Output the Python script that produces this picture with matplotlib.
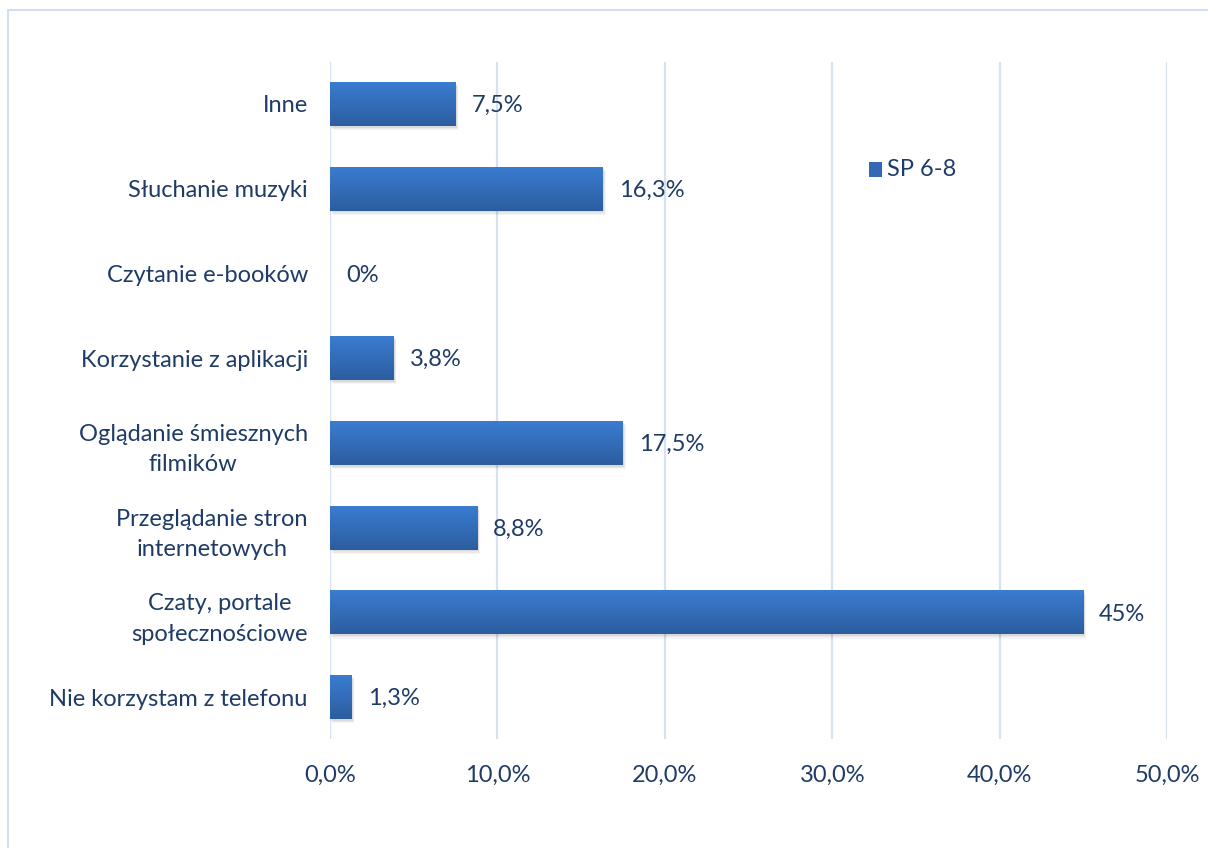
import matplotlib
matplotlib.use("Agg")
import matplotlib.pyplot as plt
import numpy as np
from matplotlib.patches import Rectangle
import matplotlib.colors as mcolors

categories = ["Inne", "Słuchanie muzyki", "Czytanie e-booków", "Korzystanie z aplikacji",
              "Oglądanie śmiesznych\nfilmików", "Przeglądanie stron\ninternetowych",
              "Czaty, portale\nspołecznościowe", "Nie korzystam z telefonu"]
values = [7.5, 16.3, 0.0, 3.8, 17.5, 8.8, 45.0, 1.3]
value_labels = ["7,5%", "16,3%", "0%", "3,8%", "17,5%", "8,8%", "45%", "1,3%"]
xticks = [0, 10, 20, 30, 40, 50]
xtick_labels = ["0,0%", "10,0%", "20,0%", "30,0%", "40,0%", "50,0%"]
series_name = "SP 6-8"

plt.rcParams['font.family'] = ['Lato', 'DejaVu Sans']
text_color = "#1F3B66"
grid_color = "#D6E1F2"
fs = 17

fig = plt.figure(figsize=(12.08, 8.48), dpi=100)
ax = fig.add_axes([0.2732, 0.128, 0.9661 - 0.2732, 0.9274 - 0.128])

n = len(categories)
ypos = np.arange(n)
bar_h = 0.52

cmap = mcolors.LinearSegmentedColormap.from_list("g", ["#3B7DD2", "#2C5D9F"])
for y, v in zip(ypos, values):
    if v <= 0:
        continue
    # soft shadow
    for k, a in enumerate([0.06, 0.05, 0.04]):
        off = 0.02 + 0.015 * k
        sh = Rectangle((0.08 + 0.04 * k, y - bar_h / 2 + off), v, bar_h, facecolor="#000000",
                       alpha=a, edgecolor="none", zorder=2)
        ax.add_patch(sh)
    rect = Rectangle((0, y - bar_h / 2), v, bar_h, facecolor="none", edgecolor="none", zorder=3)
    ax.add_patch(rect)
    grad = np.linspace(0, 1, 100).reshape(-1, 1)
    im = ax.imshow(grad, cmap=cmap, aspect="auto",
                   extent=(0, v, y + bar_h / 2, y - bar_h / 2), zorder=3,
                   interpolation="bilinear")
    im.set_clip_path(rect)

for y, v, lab in zip(ypos, values, value_labels):
    ax.text(v + 0.95, y + 0.02, lab, va="center", ha="left", fontsize=fs, color=text_color, zorder=4)

ax.set_xlim(0, 50)
ax.set_ylim(n - 0.5, -0.5)
ax.set_xticks(xticks)
ax.set_xticklabels(xtick_labels)
ax.set_yticks(ypos)
ax.set_yticklabels(categories, linespacing=1.55)
ax.tick_params(axis="both", length=0, labelsize=fs, labelcolor=text_color)
ax.tick_params(axis="x", pad=18)
ax.tick_params(axis="y", pad=16)
for lab in ax.get_yticklabels():
    lab.set_horizontalalignment("right")
    lab.set_multialignment("center")
ax.grid(axis="x", color=grid_color, linewidth=1.6, zorder=0)
ax.set_axisbelow(True)
for s in ax.spines.values():
    s.set_visible(False)
ax.axvline(0, color=grid_color, linewidth=1.6, zorder=1)

# legend
fig.patches.append(Rectangle((869 / 1208, 1 - 177 / 848), 13 / 1208, 15 / 848,
                             transform=fig.transFigure, facecolor="#3468B4", edgecolor="none"))
fig.text(887 / 1208, 1 - 170 / 848, series_name, fontsize=fs, color=text_color, va="center", ha="left")

# outer border
fig.patches.append(Rectangle((8 / 1208, -0.05), 1.2, 1 - 10 / 848 + 0.05,
                             transform=fig.transFigure, facecolor="none",
                             edgecolor="#D3DFF0", linewidth=1.5))

fig.savefig("out.png", dpi=100)
